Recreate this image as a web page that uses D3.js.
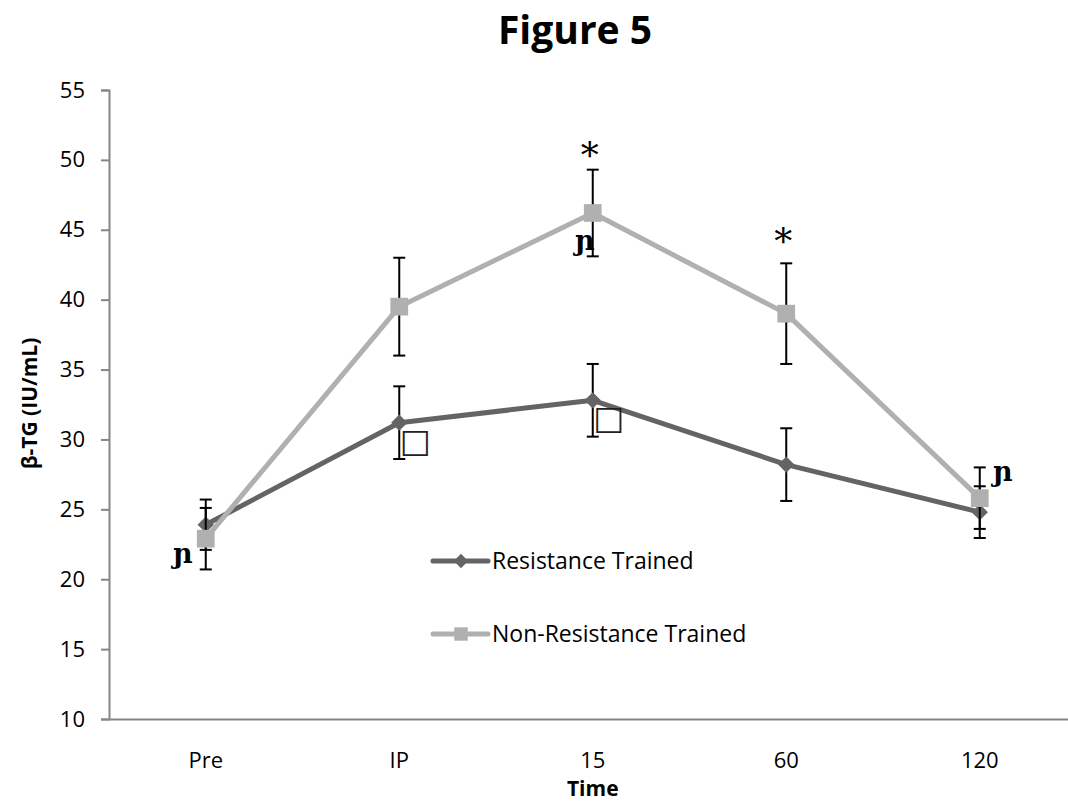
<!DOCTYPE html>
<html>
<head>
<meta charset="utf-8">
<script src="https://cdn.jsdelivr.net/npm/d3@7"></script>
<style>
  body { margin: 0; background: #fff; }
  text { font-family: "Open Sans", "Liberation Sans", sans-serif; }
</style>
</head>
<body>
<svg id="chart" width="1068" height="804"></svg>
<script>
// données
const temps = ["Pre", "IP", "15", "60", "120"];
const entraines = [23.9, 31.2, 32.8, 28.2, 24.8];
const entrainesErr = [1.8, 2.6, 2.6, 2.6, 1.85];
const nonEntraines = [22.9, 39.5, 46.2, 39.0, 25.8];
const nonEntrainesErr = [2.2, 3.5, 3.1, 3.6, 2.2];
const yTicks = [10, 15, 20, 25, 30, 35, 40, 45, 50, 55];

// annotations de significativité (indice du temps)
const etoiles = [2, 3];        // * au-dessus de Non-Resistance Trained
const marquesN = [0, 2, 4];    // ɲ à côté de Non-Resistance Trained
const marquesCarre = [1, 2];   // □ sous Resistance Trained

const series = [
  { nom: "Resistance Trained", valeurs: entraines, err: entrainesErr, couleur: "#646464", forme: d3.symbolDiamond2, taille: 170, tailleLeg: 130 },
  { nom: "Non-Resistance Trained", valeurs: nonEntraines, err: nonEntrainesErr, couleur: "#b0b0b0", forme: d3.symbolSquare2, taille: 400, tailleLeg: 230 }
];

const svg = d3.select("#chart");
const marge = { haut: 90, gauche: 109, bas: 719 };
const largeurBande = 193.5;

const x = d3.scaleBand().domain(temps).range([marge.gauche, marge.gauche + largeurBande * temps.length]);
const y = d3.scaleLinear().domain([10, 55]).range([marge.bas, marge.haut]);
const cx = t => x(t) + x.bandwidth() / 2;

// titre
svg.append("text")
  .attr("x", 575).attr("y", 44)
  .attr("text-anchor", "middle")
  .attr("font-size", 39).attr("font-weight", "bold")
  .text("Figure 5");

// axe Y
const axeY = svg.append("g")
  .attr("transform", `translate(${marge.gauche},0)`)
  .call(d3.axisLeft(y).tickValues(yTicks).tickSize(8).tickPadding(16));
axeY.select(".domain").attr("stroke", "#868686").attr("stroke-width", 2);
axeY.selectAll(".tick line").attr("stroke", "#868686").attr("stroke-width", 2);
axeY.selectAll(".tick text").attr("font-size", 22).attr("fill", "#000")
  .style("font-family", "'Open Sans', sans-serif");

// axe X
const axeX = svg.append("g")
  .attr("transform", `translate(0,${marge.bas})`)
  .call(d3.axisBottom(x).tickSize(0).tickPadding(33));
axeX.select(".domain").attr("stroke", "#868686").attr("stroke-width", 2);
axeX.selectAll(".tick text").attr("font-size", 22).attr("fill", "#000")
  .style("font-family", "'Open Sans', sans-serif");

// titres des axes
svg.append("text")
  .attr("transform", `translate(37,${(marge.haut + marge.bas) / 2 - 1}) rotate(-90)`)
  .attr("text-anchor", "middle")
  .attr("font-size", 21).attr("font-weight", "bold")
  .text("β-TG (IU/mL)");

svg.append("text")
  .attr("x", cx("15")).attr("y", 796)
  .attr("text-anchor", "middle")
  .attr("font-size", 21).attr("font-weight", "bold")
  .text("Time");

const ligne = d3.line().x((d, i) => cx(temps[i])).y(d => y(d));

series.forEach(s => {
  const g = svg.append("g");

  // barres d'erreur
  const barres = g.append("g").selectAll("g")
    .data(s.valeurs.map((v, i) => ({ t: temps[i], v, e: s.err[i] })))
    .join("g")
    .attr("stroke", "#000").attr("stroke-width", 2);
  barres.append("line")
    .attr("x1", d => cx(d.t)).attr("x2", d => cx(d.t))
    .attr("y1", d => y(d.v + d.e)).attr("y2", d => y(d.v - d.e));
  barres.append("line")
    .attr("x1", d => cx(d.t) - 6).attr("x2", d => cx(d.t) + 6)
    .attr("y1", d => y(d.v + d.e)).attr("y2", d => y(d.v + d.e));
  barres.append("line")
    .attr("x1", d => cx(d.t) - 6).attr("x2", d => cx(d.t) + 6)
    .attr("y1", d => y(d.v - d.e)).attr("y2", d => y(d.v - d.e));

  g.append("path")
    .datum(s.valeurs)
    .attr("d", ligne)
    .attr("fill", "none")
    .attr("stroke", s.couleur)
    .attr("stroke-width", 5)
    .attr("stroke-linejoin", "round");

  g.selectAll(".marqueur")
    .data(s.valeurs)
    .join("path")
    .attr("class", "marqueur")
    .attr("transform", (d, i) => `translate(${cx(temps[i])},${y(d)})`)
    .attr("d", d3.symbol().type(s.forme).size(s.taille))
    .attr("fill", s.couleur);
});

// annotations
const haut = i => y(nonEntraines[i] + nonEntrainesErr[i]);
const bas = i => y(nonEntraines[i] - nonEntrainesErr[i]);

svg.selectAll(".etoile")
  .data(etoiles)
  .join("text")
  .attr("class", "etoile")
  .attr("x", i => cx(temps[i]) - 3)
  .attr("y", (i, k) => haut(i) - (k === 0 ? 19 : 26) + 17)
  .attr("text-anchor", "middle")
  .attr("font-size", 36)
  .style("font-family", "'DejaVu Serif', serif")
  .text("*");

// ɲ : à gauche sous le point, sauf à 120 (à droite, au-dessus)
const placeN = i => i === temps.length - 1
  ? { x: cx(temps[i]) + 23, y: haut(i) + 14 }
  : { x: cx(temps[i]) - (i === 0 ? 23 : 8), y: bas(i) - 6 };

svg.selectAll(".marqueN")
  .data(marquesN)
  .join("text")
  .attr("class", "marqueN")
  .attr("x", i => placeN(i).x).attr("y", i => placeN(i).y)
  .attr("text-anchor", "middle")
  .attr("font-size", 27).attr("font-weight", "bold")
  .style("font-family", "'DejaVu Serif', serif")
  .text("ɲ");

svg.selectAll(".marqueCarre")
  .data(marquesCarre)
  .join("text")
  .attr("class", "marqueCarre")
  .attr("x", i => cx(temps[i]) + 16).attr("y", i => y(entraines[i]) + 29)
  .attr("text-anchor", "middle")
  .attr("font-size", 33)
  .attr("fill", "#222")
  .style("font-family", "'DejaVu Sans', sans-serif")
  .text("□");

// légende
const legende = svg.append("g").attr("transform", "translate(433,561)");
series.forEach((s, i) => {
  const item = legende.append("g").attr("transform", `translate(0,${i * 73})`);
  item.append("line")
    .attr("x1", 0).attr("x2", 55)
    .attr("stroke", s.couleur).attr("stroke-width", 5)
    .attr("stroke-linecap", "round");
  item.append("path")
    .attr("transform", "translate(28,0)")
    .attr("d", d3.symbol().type(s.forme).size(s.tailleLeg))
    .attr("fill", s.couleur);
  item.append("text")
    .attr("x", 59).attr("y", 8)
    .attr("font-size", 23)
    .text(s.nom);
});
</script>
</body>
</html>
